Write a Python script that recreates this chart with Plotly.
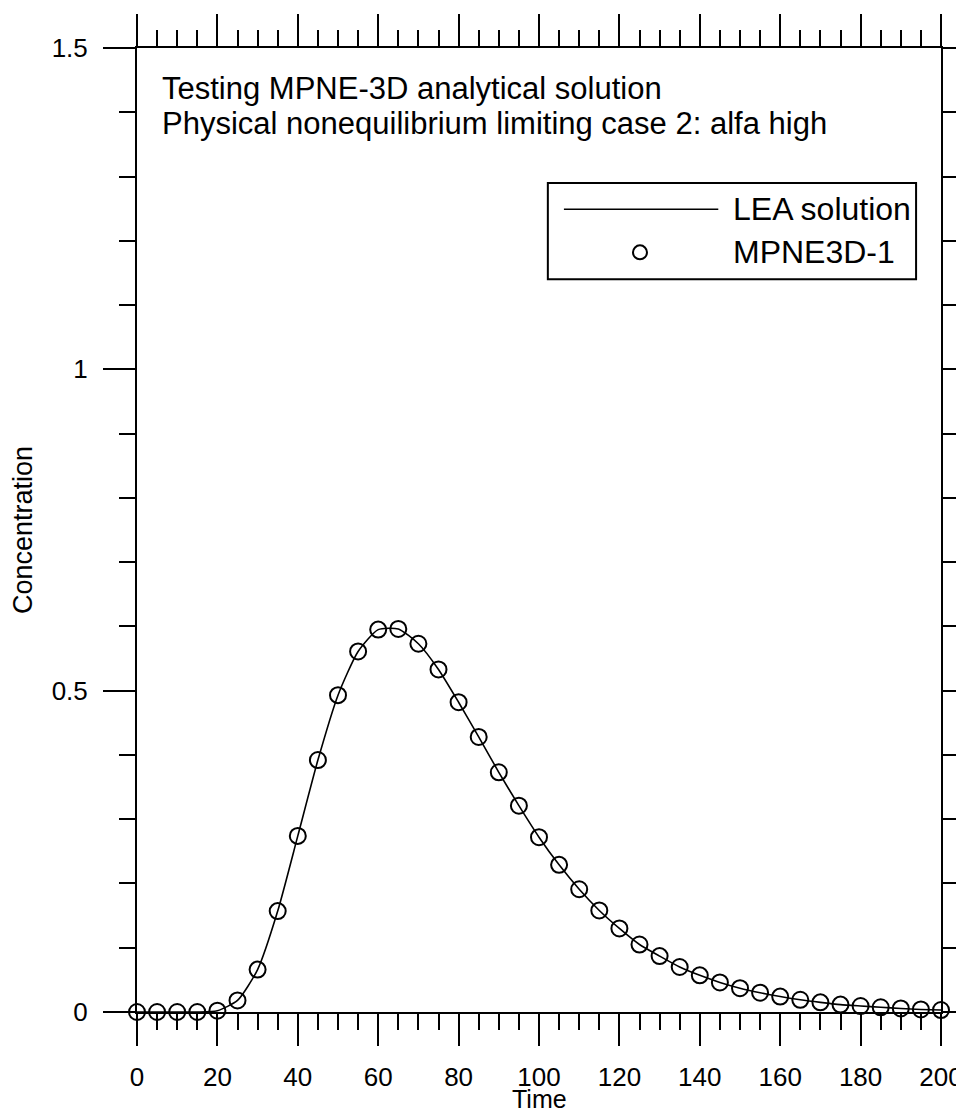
import plotly.graph_objects as go

time = list(range(0, 205, 5))
conc_mpne = [
    0.0, 0.0, 0.0, 0.0, 0.002,
    0.018, 0.066, 0.157, 0.274, 0.392, 0.493, 0.561, 0.595, 0.596,
    0.573, 0.533, 0.482, 0.428, 0.373, 0.321, 0.272, 0.229, 0.191,
    0.158, 0.130, 0.105, 0.087, 0.070, 0.057, 0.046, 0.037, 0.030,
    0.024, 0.019, 0.015, 0.0115, 0.0093, 0.0073, 0.0055, 0.004, 0.003,
]
conc_lea = conc_mpne

title_lines = [
    "Testing MPNE-3D analytical solution",
    "Physical nonequilibrium limiting case 2: alfa high",
]
legend_names = ["LEA solution", "MPNE3D-1"]
x_title = "Time"
y_title = "Concentration"

FONT = "Arial, Liberation Sans, sans-serif"

fig = go.Figure()
fig.add_trace(
    go.Scatter(
        x=time,
        y=conc_lea,
        mode="lines",
        line=dict(color="black", width=1.6, shape="spline", smoothing=0.6),
        name=legend_names[0],
        cliponaxis=False,
    )
)
fig.add_trace(
    go.Scatter(
        x=time,
        y=conc_mpne,
        mode="markers",
        marker=dict(symbol="circle-open", size=16, color="black", line=dict(width=2)),
        name=legend_names[1],
        cliponaxis=False,
    )
)

axis_common = dict(
    showline=True,
    linecolor="black",
    linewidth=2,
    mirror="allticks",
    ticks="outside",
    ticklen=32,
    tickwidth=2,
    tickcolor="black",
    showgrid=False,
    zeroline=False,
    automargin=False,
    ticklabeloverflow="allow",
    tickfont=dict(family=FONT, size=26, color="black"),
)

fig.update_xaxes(
    range=[0, 200],
    dtick=20,
    tick0=0,
    minor=dict(dtick=5, ticklen=16, tickwidth=2, tickcolor="black", ticks="outside"),
    ticklabelstandoff=9,
    **axis_common,
)
fig.update_yaxes(
    range=[0, 1.5],
    tickvals=[0, 0.5, 1, 1.5],
    ticktext=["0", "0.5", "1", "1.5"],
    minor=dict(dtick=0.1, ticklen=16, tickwidth=2, tickcolor="black", ticks="outside"),
    title=dict(text=y_title, font=dict(family=FONT, size=27, color="black"), standoff=12),
    ticklabelstandoff=10,
    **axis_common,
)

# x-axis title placed just under the tick labels
fig.add_annotation(
    x=0.5, y=-0.0905, xref="paper", yref="paper", text=x_title,
    showarrow=False, xanchor="center", yanchor="middle",
    font=dict(family=FONT, size=25, color="black"),
)

# title text inside the frame
for i, line in enumerate(title_lines):
    fig.add_annotation(
        x=0.0286, y=0.958 - i * 0.0363, xref="paper", yref="paper",
        text=line, showarrow=False, xanchor="left", yanchor="middle",
        font=dict(family=FONT, size=31, color="black"),
    )

# legend box drawn by hand
fig.add_shape(type="rect", xref="paper", yref="paper",
              x0=0.511, x1=0.969, y0=0.760, y1=0.860,
              line=dict(color="black", width=2), fillcolor="white", layer="above")
fig.add_shape(type="line", xref="paper", yref="paper",
              x0=0.531, x1=0.723, y0=0.8327, y1=0.8327,
              line=dict(color="black", width=1.6), layer="above")
fig.add_shape(type="circle", xref="paper", yref="paper",
              xsizemode="pixel", ysizemode="pixel",
              xanchor=0.6256, yanchor=0.788, x0=-7, x1=7, y0=-7, y1=7,
              line=dict(color="black", width=2), layer="above")
for name, yy in zip(legend_names, [0.8327, 0.788]):
    fig.add_annotation(
        x=0.739, y=yy, xref="paper", yref="paper", text=name,
        showarrow=False, xanchor="left", yanchor="middle",
        font=dict(family=FONT, size=32, color="black"),
    )

# page body adds an 8px offset, so margins are shifted by that amount
fig.update_layout(
    width=956,
    height=1106,
    margin=dict(l=129, r=23, t=40, b=102),
    paper_bgcolor="white",
    plot_bgcolor="white",
    showlegend=False,
    font=dict(family=FONT, color="black"),
)

fig.write_html("out.html")
